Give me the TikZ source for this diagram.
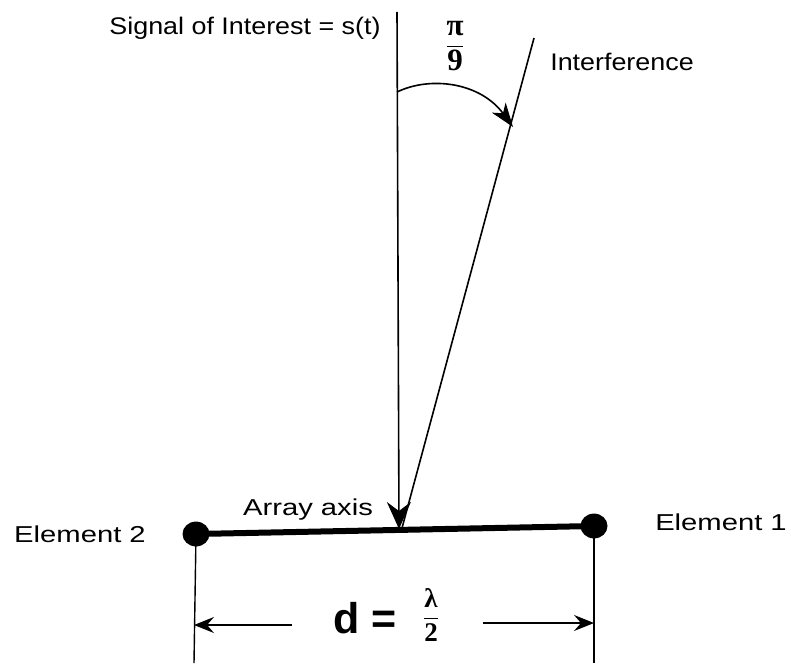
\documentclass[tikz,border=0pt]{standalone}
\usepackage{amsmath}
\usepackage{fontspec}
\setmainfont{Liberation Sans}
\newfontfamily\widefont[FakeStretch=1.27]{Liberation Sans}
\newfontfamily\midfont[FakeStretch=1.12]{Liberation Sans}
\newfontfamily\serffont{Liberation Serif}
\newcommand{\sfrac}[2]{$\displaystyle\frac{\hbox{\serffont\bfseries #1}}{\hbox{\serffont\bfseries #2}}$}
\usetikzlibrary{arrows.meta}
\begin{document}
\begin{tikzpicture}[x=1pt,y=-1pt,
  lbl/.style={inner sep=0pt,font=\midfont\fontsize{24}{26}\selectfont},
  wlbl/.style={inner sep=0pt,font=\widefont\fontsize{23}{25}\selectfont},
  ray/.style={line width=1.6pt},
  bigtip/.style={-{Stealth[length=27pt,width=24pt,inset=9pt]}},
  dim/.style={line width=1.2pt,-{Stealth[length=20pt,width=16pt,inset=7pt]}}]
\useasboundingbox (0,0) rectangle (791,663);
% elements
\node[circle,fill=black,inner sep=0pt,minimum size=27pt,yscale=0.92] (e2) at (196,534) {};
\node[circle,fill=black,inner sep=0pt,minimum size=27pt,yscale=0.92] (e1) at (594,526) {};
\draw[line width=6pt] (e2.center) -- (e1.center);
\coordinate (hit) at (402,528);
% rays
\coordinate (sTop) at (397,12);
\coordinate (iTop) at (534,38);
\draw[ray,bigtip] (sTop) -- (399,529);
\draw[ray] (iTop) -- (hit);
% angle arc
\coordinate (a0) at (397,92);
\coordinate (a1) at (513,127);
\draw[line width=1.6pt,-{Stealth[length=24pt,width=17pt,inset=7pt]}] (a0) .. controls (430,76) and (480,82) .. (a1);
% labels
\node[lbl] (sig) at (245,28) {Signal of Interest = s(t)};
\node[lbl] (intf) at (622,62) {Interference};
\node[inner sep=0pt,font=\fontsize{31}{33}\selectfont] (ang) at (455,46) {\sfrac{π}{9}};
\node[wlbl] (axis) at (308,510) {Array axis};
\node[wlbl] (el2) at (80,534) {Element 2};
\node[wlbl] (el1) at (721,522) {Element 1};
% vertical drops
\coordinate (b2) at (194,663);
\coordinate (b1) at (594,663);
\draw[line width=1.4pt] (e2.center) -- (b2);
\draw[line width=1.4pt] (e1.center) -- (b1);
% dimension
\coordinate (l0) at (292,625);
\coordinate (r0) at (483,623);
\coordinate (l1) at (194,625);
\coordinate (r1) at (594,623);
\draw[dim] (l0) -- (l1);
\draw[dim] (r0) -- (r1);
\node[inner sep=0pt,font=\fontsize{43}{45}\selectfont\bfseries] (dlab) at (365,618) {d =};
\node[inner sep=0pt,font=\fontsize{27}{29}\selectfont] (frac) at (431,615) {\sfrac{λ}{2}};
\end{tikzpicture}
\end{document}
